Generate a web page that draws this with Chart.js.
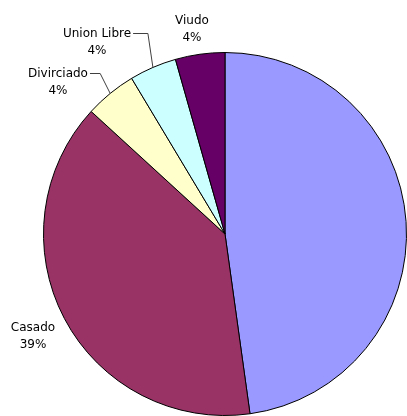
<!DOCTYPE html>
<html lang="es">
<head>
    <meta charset="UTF-8">
    <title>Estado civil</title>
    <script src="https://cdn.jsdelivr.net/npm/chart.js"></script>
    <style>
        body {
            margin: 0;
            background: #fff;
        }
        #chart-container {
            width: 407px;
            height: 416px;
        }
    </style>
</head>
<body>

<div id="chart-container">
    <canvas id="pieChart" width="407" height="416"></canvas>
</div>

<script>
    // Data (slice sizes from the drawn angles)
    const categories = ['Soltero', 'Casado', 'Divirciado', 'Union Libre', 'Viudo'];
    const shares = [47.8, 39.0, 4.6, 4.2, 4.4];
    const pctLabels = ['', '39%', '4%', '4%', '4%'];
    const sliceColors = ['#9999FF', '#993366', '#FFFFCC', '#CCFFFF', '#660066'];

    // where Excel put each label (text block centre) and whether it has a leader line
    const labelLayout = [
        null,
        { x: 33, y: 336, leader: false },
        { x: 58, y: 82, leader: true, elbow: 10 },
        { x: 97, y: 42, leader: true, elbow: 5 },
        { x: 192, y: 29, leader: false }
    ];

    const sliceLabels = {
        id: 'sliceLabels',
        afterDatasetsDraw(chart) {
            const ctx = chart.ctx;
            const arcs = chart.getDatasetMeta(0).data;
            ctx.save();
            ctx.font = '12px "DejaVu Sans", sans-serif';
            ctx.textAlign = 'center';
            ctx.textBaseline = 'middle';
            arcs.forEach((arc, i) => {
                const lay = labelLayout[i];
                if (!lay) return;
                const p = arc.getProps(['x', 'y', 'startAngle', 'endAngle', 'outerRadius'], true);
                const mid = (p.startAngle + p.endAngle) / 2;
                const ex = p.x + Math.cos(mid) * p.outerRadius;
                const ey = p.y + Math.sin(mid) * p.outerRadius;
                const lines = [categories[i], pctLabels[i]];
                if (lay.leader) {
                    const w = Math.max(...lines.map(t => ctx.measureText(t).width));
                    ctx.strokeStyle = '#404040';
                    ctx.lineWidth = 1;
                    ctx.beginPath();
                    ctx.moveTo(ex, ey);
                    ctx.lineTo(ex - lay.elbow, lay.y - 8.5);
                    ctx.lineTo(lay.x + w / 2 + 2, lay.y - 8.5);
                    ctx.stroke();
                }
                ctx.fillStyle = '#000';
                ctx.fillText(lines[0], lay.x, lay.y - 8.5);
                ctx.fillText(lines[1], lay.x, lay.y + 8.5);
            });
            ctx.restore();
        }
    };

    const ctx = document.getElementById('pieChart').getContext('2d');
    const pieChart = new Chart(ctx, {
        type: 'pie',
        data: {
            labels: categories,
            datasets: [{
                data: shares,
                backgroundColor: sliceColors,
                borderColor: '#000',
                borderWidth: 1
            }]
        },
        options: {
            responsive: false,
            animation: false,
            layout: {
                padding: { left: 43, top: 52, right: 0, bottom: 0 }
            },
            plugins: {
                legend: { display: false },
                tooltip: { enabled: false }
            }
        },
        plugins: [sliceLabels]
    });
</script>

</body>
</html>
